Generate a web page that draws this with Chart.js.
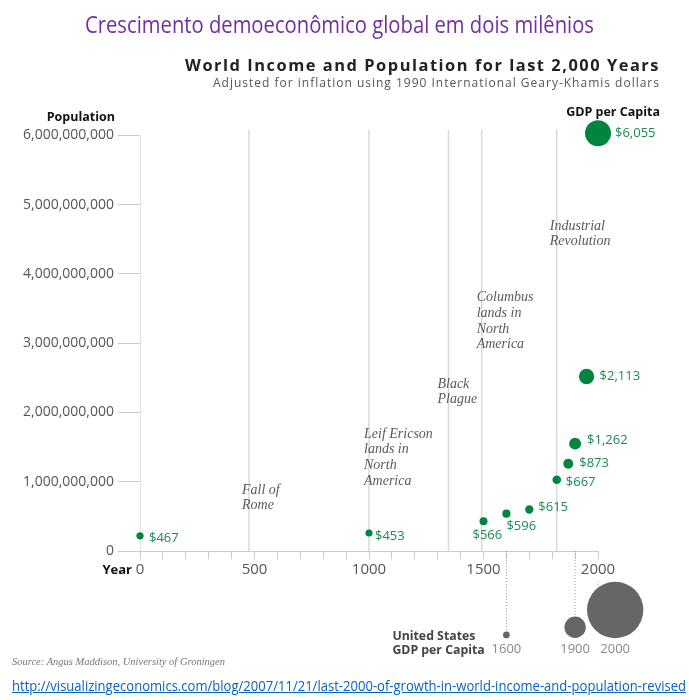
<!DOCTYPE html>
<html>
<head>
<meta charset="utf-8">
<script src="https://cdn.jsdelivr.net/npm/chart.js@4.4.1/dist/chart.umd.min.js"></script>
<style>
    body { margin: 0; width: 689px; height: 700px; background: #fff; position: relative; overflow: hidden; }
    #Chart { position: absolute; left: 0; top: 0; }
    .t { position: absolute; white-space: nowrap; line-height: 1; transform-origin: 0 50%; }
</style>
</head>
<body>
<canvas id="Chart" width="689" height="700"></canvas>
<div class="t" data-w="509" style="left:85px;top:8px;font:23px 'Open Sans';color:#7030a0">Crescimento demoeconômico global em dois milênios</div>
<div class="t" data-w="475" style="left:185px;top:54px;font:bold 16px 'Open Sans';letter-spacing:1.5px;color:#222">World Income and Population for last 2,000 Years</div>
<div class="t" data-w="447" style="left:213px;top:74px;font:12px 'Open Sans';letter-spacing:1px;color:#555">Adjusted for inflation using 1990 International Geary-Khamis dollars</div>
<div class="t" data-w="213" style="left:12px;top:656px;font:italic 10px 'Liberation Serif';color:#777">Source: Angus Maddison, University of Groningen</div>
<div class="t" data-w="674" style="left:12px;top:675px;font:15px 'Open Sans';color:#0563c1;text-decoration:underline">http://visualizingeconomics.com/blog/2007/11/21/last-2000-of-growth-in-world-income-and-population-revised</div>
<script>
(function () {
    // world
    var years = [0, 1000, 1500, 1600, 1700, 1820, 1870, 1900, 1950, 2000];
    var population = [0.22e9, 0.26e9, 0.43e9, 0.54e9, 0.6e9, 1.03e9, 1.26e9, 1.55e9, 2.52e9, 6.03e9];
    var gdpPerCapita = [467, 453, 566, 596, 615, 667, 873, 1262, 2113, 6055];

    // united states, drawn under the axis
    var usYears = [1600, 1900, 2000];
    var usGdpPerCapita = [400, 4091, 28467];

    // events
    var eventYears = [476, 1000, 1347, 1492, 1820];
    var eventNames = ['Fall of\nRome', 'Leif Ericson\nlands in\nNorth\nAmerica', 'Black\nPlague',
        'Columbus\nlands in\nNorth\nAmerica', 'Industrial\nRevolution'];

    var yTicks = [0, 1e9, 2e9, 3e9, 4e9, 5e9, 6e9];

    // layout bits (not data)
    var usX = [1600, 1900, 2075];           // 2000 bubble pushed right like the original
    var usY = [-1.21e9, -1.1e9, -0.85e9];   // bottoms lined up
    var usLineFrom = [0, 0, -0.44e9];
    var noteShift = [-7, -5, -11, -5, -7];
    var noteTop = [0.88e9, 1.69e9, 2.41e9, 3.66e9, 4.69e9];
    var labelOff = [[9, 2], [6, 3], [-11, 14], [0, 13], [9, -2], [9, 3], [11, 0], [12, -3], [13, 0], [17, 0]];

    var green = '#00843f';
    var k = 0.167; // radius per sqrt($)

    var datasets = [];
    datasets.push({
        data: years.map((yr, i) => ({ x: yr, y: population[i], r: Math.sqrt(gdpPerCapita[i]) * k })),
        backgroundColor: green,
        borderWidth: 0,
        clip: false
    });
    datasets.push({
        data: usX.map((yr, i) => ({ x: yr, y: usY[i], r: Math.sqrt(usGdpPerCapita[i]) * k })),
        backgroundColor: '#666',
        borderWidth: 0,
        clip: false
    });
    usX.forEach(function (yr, i) {
        var lx = usYears[i] === 2000 ? 2000 : yr;
        datasets.push({
            type: 'line',
            data: [{ x: lx, y: usLineFrom[i] }, { x: lx, y: usY[i] }],
            borderColor: '#999',
            borderWidth: 1,
            borderDash: [1, 2],
            pointRadius: 0,
            clip: false
        });
    });
    [0].concat(eventYears).forEach(function (yr) {
        datasets.push({
            type: 'line',
            data: [{ x: yr, y: 0 }, { x: yr, y: yr === 0 ? 6e9 : 6.08e9 }],
            borderColor: '#d9d9d9',
            borderWidth: 1.5,
            pointRadius: 0
        });
    });

    var notes = {
        id: 'notes',
        afterDatasetsDraw: function (chart) {
            var ctx = chart.ctx, x = chart.scales.x, y = chart.scales.y;
            ctx.save();
            ctx.textBaseline = 'middle';

            ctx.font = 'italic 14px "Liberation Serif"';
            ctx.fillStyle = '#5a5a5a';
            ctx.textAlign = 'left';
            eventNames.forEach(function (name, i) {
                var px = x.getPixelForValue(eventYears[i]) + noteShift[i];
                var py = y.getPixelForValue(noteTop[i]);
                name.split('\n').forEach(function (line, j) {
                    ctx.fillText(line, px, py + j * 15.7);
                });
            });

            ctx.font = '13px "Open Sans"';
            ctx.fillStyle = '#1f8a52';
            years.forEach(function (yr, i) {
                var px = x.getPixelForValue(yr), py = y.getPixelForValue(population[i]);
                ctx.fillText('$' + gdpPerCapita[i].toLocaleString('en-US'), px + labelOff[i][0], py + labelOff[i][1]);
            });

            var x0 = x.getPixelForValue(0), x2000 = x.getPixelForValue(2000);
            ctx.fillStyle = '#111';
            ctx.font = 'bold 12.5px "Open Sans"';
            ctx.textAlign = 'right';
            ctx.fillText('Population', x0 - 25, y.getPixelForValue(6e9) - 18);
            ctx.fillText('GDP per Capita', x2000 + 62, y.getPixelForValue(6e9) - 23);
            ctx.font = 'bold 13px "Open Sans"';
            ctx.fillText('Year', x0 - 8, y.getPixelForValue(0) + 19);

            ctx.fillStyle = '#444';
            ctx.font = 'bold 12.3px "Open Sans"';
            ctx.textAlign = 'left';
            var us0 = x.getPixelForValue(usYears[0]) - 114, yb = y.getPixelForValue(0);
            ctx.fillText('United States', us0, yb + 85);
            ctx.fillText('GDP per Capita', us0, yb + 99);

            ctx.fillStyle = '#888';
            ctx.font = '13px "Open Sans"';
            ctx.textAlign = 'center';
            usYears.forEach(function (yr, i) {
                ctx.fillText(String(yr), x.getPixelForValue(usX[i]), yb + 98);
            });
            ctx.restore();
        }
    };

    new Chart(document.getElementById('Chart').getContext('2d'), {
        type: 'bubble',
        data: { datasets: datasets },
        plugins: [notes],
        options: {
            responsive: false,
            animation: false,
            layout: { padding: { left: 0, top: 118, right: 91, bottom: 45 } },
            plugins: { legend: { display: false }, tooltip: { enabled: false } },
            scales: {
                x: {
                    type: 'linear',
                    position: { y: 0 },
                    min: 0,
                    max: 2000,
                    grid: { drawOnChartArea: false, tickLength: 7, color: '#ccc' },
                    border: { color: '#ccc' },
                    ticks: {
                        stepSize: 100,
                        autoSkip: false,
                        maxRotation: 0,
                        padding: 3,
                        color: '#555',
                        font: { family: 'Open Sans', size: 15 },
                        callback: function (v) { return v % 500 === 0 ? String(v) : ''; }
                    }
                },
                y: {
                    type: 'linear',
                    position: 'left',
                    min: -1.5e9,
                    max: 6.25e9,
                    afterBuildTicks: function (s) { s.ticks = yTicks.map(v => ({ value: v })); },
                    afterFit: function (s) { s.width = 140; },
                    grid: { drawOnChartArea: false, tickLength: 22, color: '#ccc' },
                    border: { display: false },
                    ticks: {
                        padding: 4,
                        color: '#555',
                        font: { family: 'Open Sans', size: 14 },
                        callback: function (v) { return v.toLocaleString('en-US'); }
                    }
                }
            }
        }
    });

    document.querySelectorAll('[data-w]').forEach(function (el) {
        var w = el.getBoundingClientRect().width;
        el.style.transform = 'scaleX(' + (el.dataset.w / w) + ')';
    });
})();
</script>
</body>
</html>
